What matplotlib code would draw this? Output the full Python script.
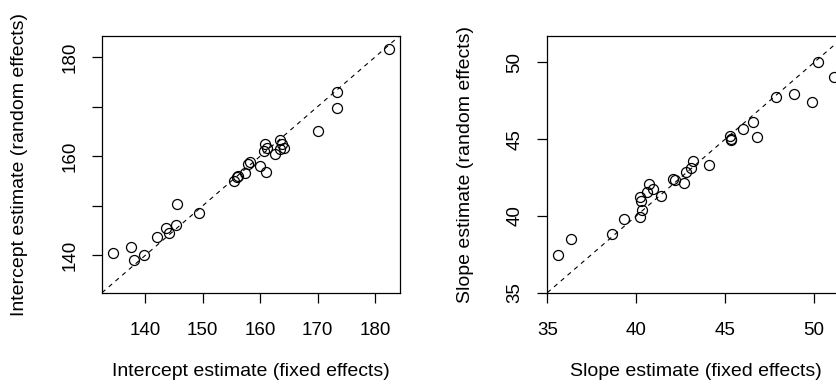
import matplotlib
matplotlib.use("Agg")
import matplotlib.pyplot as plt

plt.rcParams["font.family"] = ["Liberation Sans", "DejaVu Sans"]

# intercepts: fixed-effects fit vs random-effects fit
icpt_fixed = [134.4, 137.6, 138.0, 139.7, 142.1, 143.7, 144.1, 145.4, 145.6, 149.4,
              155.4, 156.0, 156.2, 157.4, 157.9, 158.3, 160.0, 161.0, 160.9, 161.2,
              160.6, 162.6, 163.5, 163.8, 163.5, 164.1, 170.1, 173.4, 173.4, 182.4]
icpt_random = [140.4, 141.7, 139.1, 140.0, 143.8, 145.6, 144.5, 146.1, 150.4, 148.6,
               155.0, 155.9, 156.1, 156.7, 158.5, 158.8, 158.0, 156.9, 162.4, 161.7,
               161.0, 160.4, 163.3, 162.4, 161.5, 161.7, 165.1, 172.9, 169.8, 181.55]

# slopes: fixed-effects fit vs random-effects fit
slope_fixed = [35.62, 36.32, 38.63, 39.30, 40.19, 40.30, 40.19, 40.25, 40.60, 40.71,
               40.94, 41.41, 42.07, 42.16, 42.71, 42.80, 43.06, 43.18, 44.10, 45.26,
               45.30, 45.34, 46.00, 46.58, 46.77, 47.88, 48.87, 49.87, 50.19, 51.13]
slope_random = [37.48, 38.47, 38.80, 39.83, 39.96, 40.37, 41.20, 41.00, 41.53, 42.10,
                41.75, 41.27, 42.41, 42.36, 42.14, 42.84, 43.11, 43.57, 43.30, 45.21,
                45.03, 44.95, 45.67, 46.13, 45.14, 47.75, 47.92, 47.40, 50.00, 49.02]

icpt_ticks = [140, 150, 160, 170, 180]
icpt_ylabels = ["140", "", "160", "", "180"]
slope_ticks = [35, 40, 45, 50]

W, H = 837, 388
BOX_W, BOX_TOP, BOX_BOT = 298, 35.5, 292.7


def panel(ax, x, y, xticks, yticks, ylabels, xlab, ylab):
    lo = min(min(x), min(y))
    hi = max(max(x), max(y))
    pad = 0.04 * (hi - lo)  # R style axis expansion
    ax.set_xlim(lo - pad, hi + pad)
    ax.set_ylim(lo - pad, hi + pad)
    ax.plot(x, y, "o", mfc="none", mec="black", ms=7.2, mew=0.9)
    ax.axline((lo, lo), slope=1, color="black", lw=0.8, ls=(0, (4, 4)))
    ax.set_xticks(xticks)
    ax.set_yticks(yticks)
    ax.set_yticklabels(ylabels, rotation=90, va="center")
    ax.tick_params(direction="out", length=7, width=0.9, labelsize=13.5)
    ax.tick_params(axis="x", pad=14)
    ax.tick_params(axis="y", pad=10)
    for s in ax.spines.values():
        s.set_linewidth(0.9)
    ax.set_xlabel(xlab, fontsize=14, va="center")
    ax.set_ylabel(ylab, fontsize=14, va="center")
    ax.xaxis.set_label_coords(0.5, (BOX_BOT - 371) / (BOX_BOT - BOX_TOP))
    ax.yaxis.set_label_coords(-82 / BOX_W, 0.5)


fig = plt.figure(figsize=(W / 100, H / 100), dpi=100)
bottom = (H - BOX_BOT) / H
height = (BOX_BOT - BOX_TOP) / H
ax1 = fig.add_axes([102 / W, bottom, BOX_W / W, height])
ax2 = fig.add_axes([547.3 / W, bottom, BOX_W / W, height])

panel(ax1, icpt_fixed, icpt_random, icpt_ticks, icpt_ticks, icpt_ylabels,
      "Intercept estimate (fixed effects)", "Intercept estimate (random effects)")
panel(ax2, slope_fixed, slope_random, slope_ticks, slope_ticks,
      [str(t) for t in slope_ticks],
      "Slope estimate (fixed effects)", "Slope estimate (random effects)")

fig.savefig("out.png", dpi=100)
